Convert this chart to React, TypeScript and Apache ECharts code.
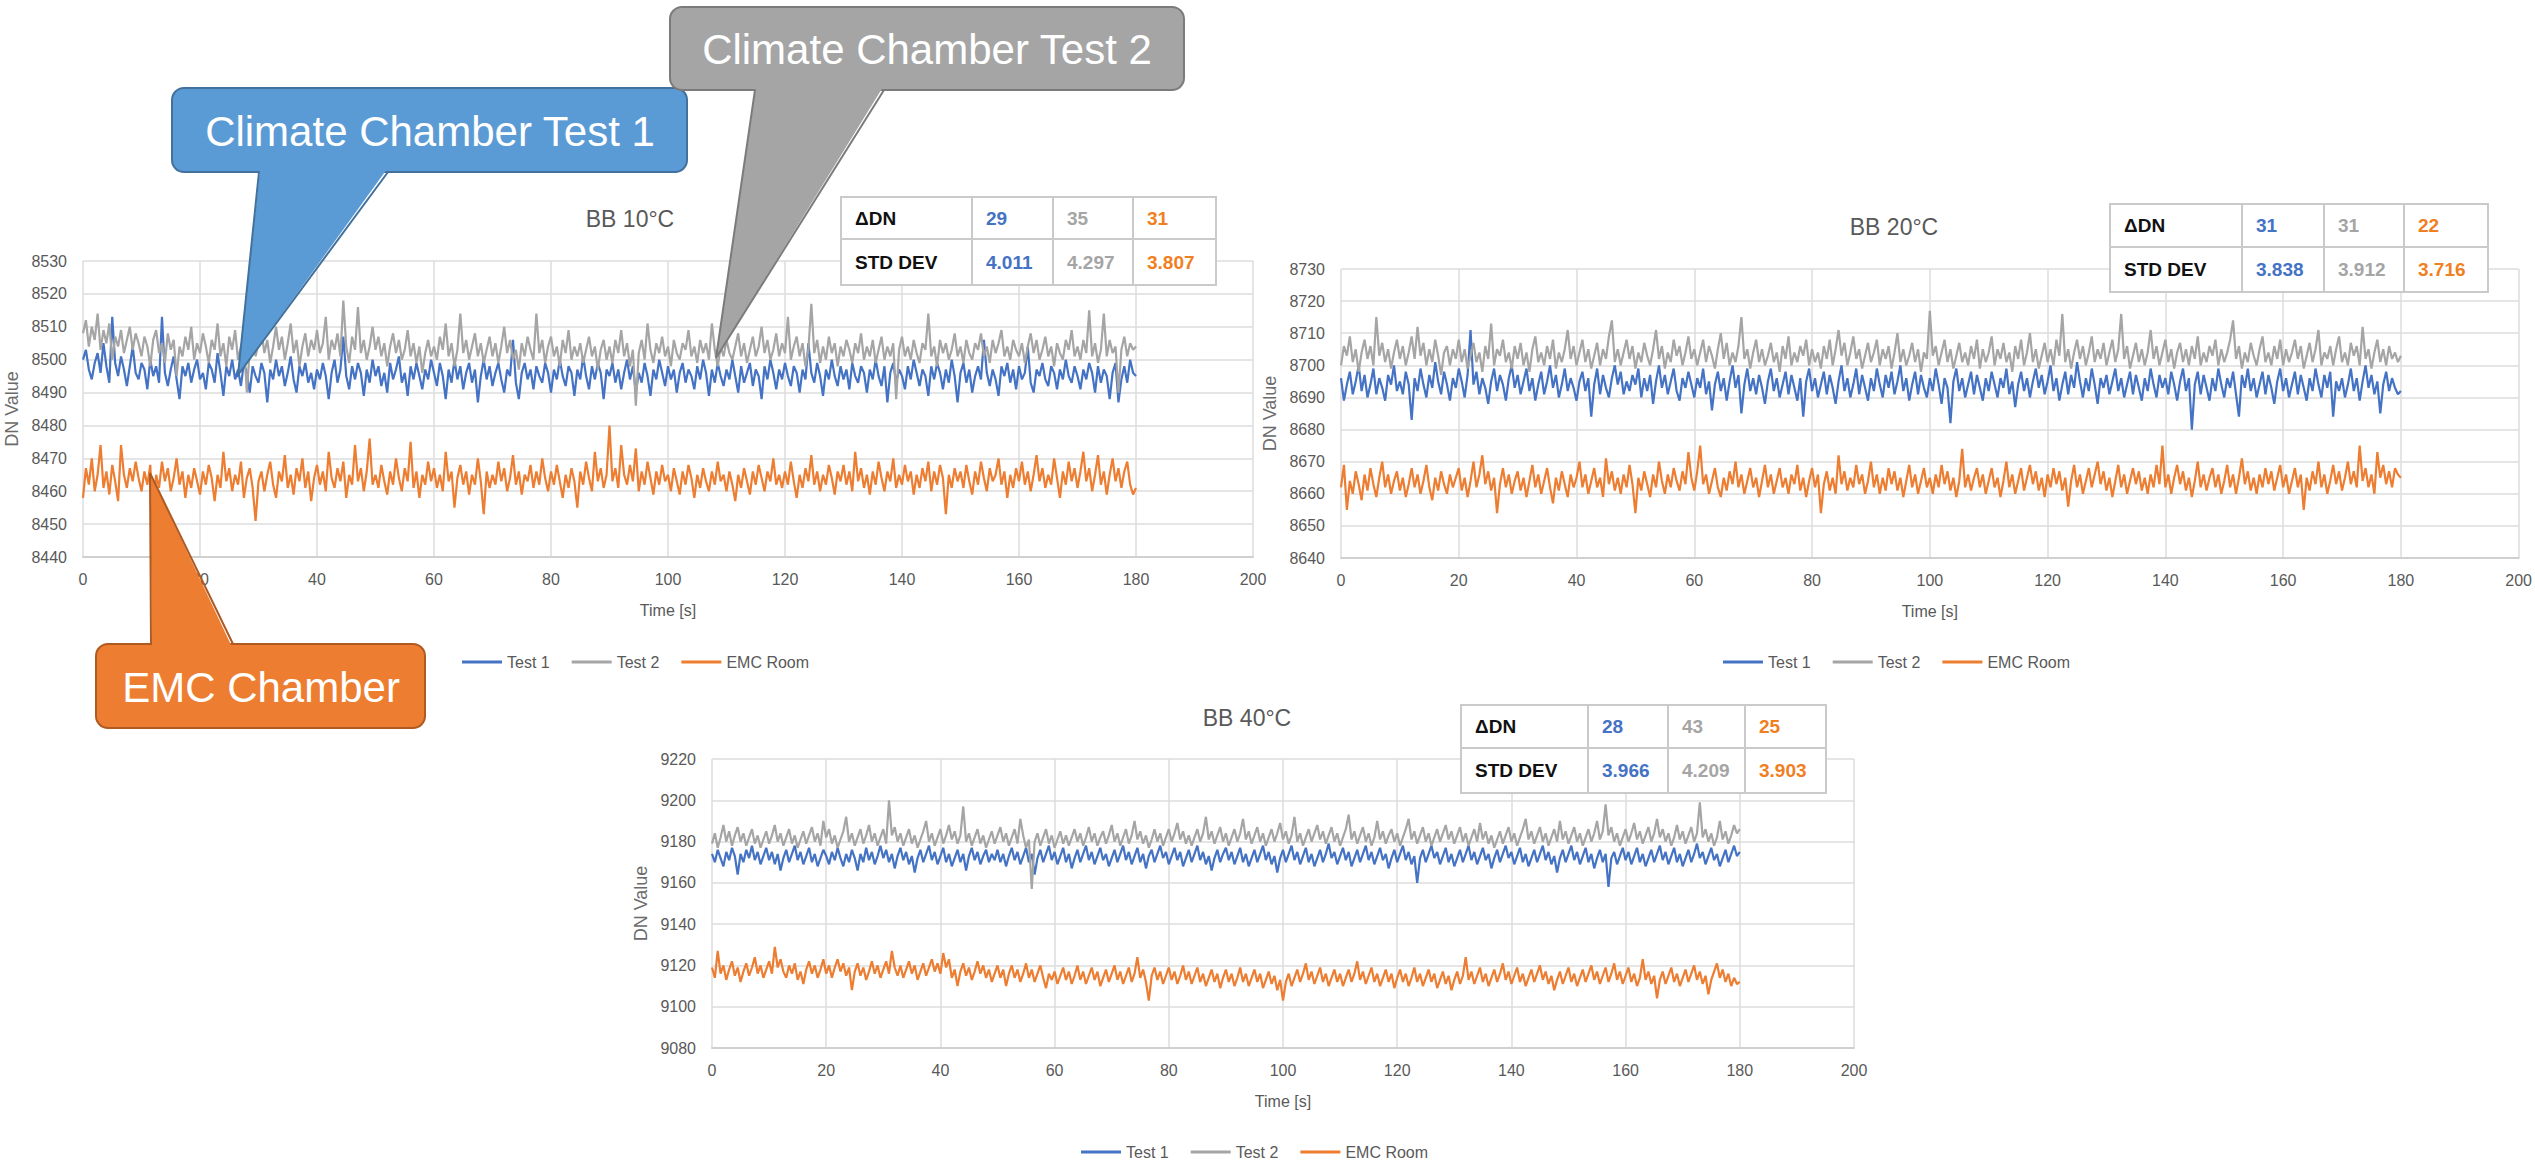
import React, { useEffect, useRef } from 'react';
import * as echarts from 'echarts';

const FONT = '"Liberation Sans", Arial, sans-serif';
const BLUE = '#4472C4';
const GRAY = '#A5A5A5';
const ORANGE = '#ED7D31';

const seriesNames = ['Test 1', 'Test 2', 'EMC Room'];
const chartTitles = ['BB 10°C', 'BB 20°C', 'BB 40°C'];
const tableLabels = ['ΔDN', 'STD DEV'];
const deltaDN10 = ['29', '35', '31'];
const stdDev10 = ['4.011', '4.297', '3.807'];
const deltaDN20 = ['31', '31', '22'];
const stdDev20 = ['3.838', '3.912', '3.716'];
const deltaDN40 = ['28', '43', '25'];
const stdDev40 = ['3.966', '4.209', '3.903'];
const calloutTexts = ['Climate Chamber Test 1', 'Climate Chamber Test 2', 'EMC Chamber'];
const timeSpan = 180; // seconds recorded

// ---- BB 10°C ----
const bb10Test1 = [
8500,8503,8497,8494,8499,8502,8496,8505,8498,8493,8513,8499,8495,8501,8497,8492,8498,8504,8496,8494,
8499,8497,8491,8500,8495,8498,8493,8513,8496,8492,8497,8501,8494,8488,8498,8495,8499,8493,8497,8500,
8494,8496,8491,8499,8497,8493,8502,8496,8489,8498,8495,8500,8494,8497,8492,8499,8496,8490,8498,8495,
8493,8499,8496,8487,8497,8494,8500,8495,8498,8492,8496,8501,8494,8490,8498,8495,8499,8493,8496,8491,
8497,8494,8499,8495,8488,8496,8500,8493,8497,8507,8495,8491,8498,8494,8499,8496,8489,8497,8493,8500,
8495,8498,8492,8496,8490,8499,8494,8497,8501,8493,8496,8489,8498,8494,8499,8495,8491,8497,8494,8500,
8496,8492,8499,8495,8488,8497,8493,8500,8494,8498,8491,8496,8499,8493,8497,8487,8495,8500,8494,8498,
8492,8496,8499,8494,8490,8497,8495,8506,8493,8488,8496,8499,8494,8497,8491,8498,8495,8493,8499,8496,
8490,8497,8494,8500,8495,8492,8498,8496,8489,8497,8494,8501,8495,8491,8498,8494,8499,8496,8488,8497,
8495,8499,8493,8497,8491,8496,8500,8494,8498,8490,8496,8493,8499,8495,8489,8497,8494,8500,8496,8492,
8498,8494,8497,8490,8496,8499,8493,8497,8495,8491,8498,8494,8500,8496,8489,8497,8493,8499,8495,8492,
8497,8494,8500,8495,8490,8498,8493,8496,8499,8492,8497,8495,8488,8498,8494,8500,8496,8491,8497,8494,
8499,8495,8492,8498,8496,8490,8497,8494,8505,8496,8493,8499,8495,8489,8497,8494,8500,8495,8492,8498,
8494,8497,8491,8499,8495,8493,8498,8496,8490,8497,8494,8500,8495,8492,8498,8487,8496,8499,8493,8497,
8495,8491,8498,8494,8500,8496,8492,8497,8495,8489,8498,8494,8499,8496,8491,8497,8493,8500,8495,8487,
8496,8499,8493,8497,8490,8495,8498,8494,8506,8496,8492,8497,8494,8489,8498,8495,8499,8493,8497,8491,
8498,8494,8496,8504,8493,8490,8497,8495,8499,8494,8492,8498,8496,8491,8497,8494,8500,8495,8493,8498,
8495,8491,8497,8494,8499,8496,8490,8498,8493,8497,8495,8488,8496,8499,8487,8494,8498,8493,8500,8496,
8495];
const bb10Test2 = [
8508,8512,8504,8510,8506,8514,8503,8509,8505,8511,8500,8507,8504,8509,8502,8506,8510,8503,8508,8505,
8501,8507,8504,8498,8506,8509,8502,8505,8499,8508,8503,8506,8495,8504,8501,8507,8503,8510,8500,8505,
8502,8508,8504,8499,8506,8503,8511,8501,8505,8498,8507,8503,8509,8500,8504,8506,8490,8503,8507,8501,
8505,8509,8502,8506,8499,8504,8510,8503,8507,8500,8505,8511,8502,8506,8498,8504,8508,8501,8506,8503,
8509,8502,8505,8513,8500,8506,8503,8508,8501,8518,8504,8499,8507,8503,8516,8502,8506,8500,8504,8510,
8503,8507,8501,8505,8498,8504,8508,8502,8506,8500,8503,8509,8501,8505,8499,8504,8496,8502,8506,8501,
8504,8500,8507,8503,8511,8501,8505,8498,8503,8514,8502,8506,8500,8504,8508,8501,8505,8499,8503,8507,
8501,8505,8499,8504,8510,8502,8506,8500,8503,8497,8505,8501,8507,8503,8500,8514,8502,8506,8499,8504,
8507,8501,8504,8498,8506,8502,8509,8500,8504,8501,8505,8499,8503,8507,8501,8504,8497,8503,8506,8500,
8504,8499,8506,8502,8509,8501,8505,8498,8503,8486,8502,8506,8500,8511,8503,8499,8505,8502,8507,8501,
8504,8498,8506,8502,8500,8505,8503,8509,8501,8504,8499,8506,8502,8505,8500,8511,8503,8498,8504,8501,
8506,8502,8500,8504,8508,8501,8505,8499,8503,8507,8501,8504,8510,8502,8506,8500,8503,8508,8501,8505,
8502,8513,8500,8504,8507,8501,8505,8498,8503,8517,8502,8506,8499,8504,8500,8507,8502,8505,8498,8504,
8501,8506,8503,8499,8505,8502,8508,8500,8504,8501,8506,8499,8503,8507,8500,8504,8501,8505,8488,8503,
8507,8501,8504,8500,8506,8502,8499,8505,8503,8514,8501,8504,8498,8506,8502,8505,8500,8503,8508,8501,
8504,8499,8506,8502,8500,8505,8503,8508,8501,8504,8499,8506,8502,8505,8509,8501,8504,8500,8506,8503,
8501,8505,8499,8504,8508,8502,8506,8500,8503,8507,8501,8504,8498,8505,8502,8500,8506,8503,8509,8501,
8504,8500,8506,8502,8515,8501,8505,8499,8503,8514,8501,8506,8502,8504,8490,8503,8507,8501,8505,8503,
8504];
const bb10Emc = [
8458,8467,8462,8470,8460,8465,8474,8461,8466,8459,8468,8463,8457,8474,8465,8461,8467,8463,8469,8464,
8460,8466,8462,8468,8449,8465,8461,8469,8463,8467,8460,8464,8470,8462,8466,8458,8465,8461,8467,8463,
8459,8466,8462,8468,8464,8457,8465,8461,8472,8463,8467,8460,8465,8462,8469,8458,8464,8467,8461,8451,
8463,8466,8460,8465,8469,8462,8458,8466,8463,8471,8461,8465,8459,8467,8463,8470,8461,8466,8457,8464,
8468,8462,8466,8460,8472,8464,8461,8467,8463,8469,8458,8465,8462,8474,8463,8467,8460,8466,8476,8462,
8465,8461,8468,8463,8459,8466,8462,8470,8464,8460,8467,8463,8475,8461,8466,8458,8465,8462,8469,8463,
8467,8461,8465,8460,8472,8463,8466,8455,8464,8468,8462,8466,8459,8465,8462,8470,8463,8453,8466,8461,
8465,8462,8469,8463,8467,8460,8464,8471,8462,8466,8459,8465,8463,8468,8461,8466,8462,8470,8464,8460,
8466,8462,8468,8463,8458,8465,8461,8467,8463,8455,8466,8462,8469,8464,8460,8472,8463,8467,8461,8465,
8480,8463,8467,8461,8474,8465,8462,8468,8463,8473,8460,8466,8462,8469,8464,8459,8466,8462,8468,8463,
8465,8460,8467,8463,8459,8466,8462,8468,8464,8458,8465,8461,8467,8463,8460,8466,8462,8469,8463,8465,
8460,8466,8462,8457,8465,8461,8467,8463,8459,8466,8462,8468,8464,8460,8466,8463,8470,8462,8465,8461,
8466,8462,8469,8463,8458,8465,8461,8467,8463,8471,8462,8466,8460,8465,8462,8468,8464,8459,8466,8463,
8468,8462,8466,8460,8472,8463,8467,8461,8465,8459,8466,8462,8469,8464,8460,8466,8463,8470,8461,8465,
8462,8468,8463,8466,8459,8465,8461,8467,8463,8469,8460,8466,8462,8468,8464,8453,8465,8461,8467,8463,
8466,8461,8468,8463,8459,8466,8462,8469,8464,8460,8467,8463,8465,8470,8462,8466,8458,8465,8461,8467,
8463,8469,8462,8466,8460,8465,8471,8463,8467,8461,8465,8462,8470,8464,8458,8466,8462,8469,8463,8467,
8461,8466,8472,8463,8467,8460,8465,8471,8462,8466,8459,8465,8470,8463,8467,8461,8466,8469,8462,8459,
8461];

// ---- BB 20°C ----
const bb20Test1 = [
8696,8689,8694,8698,8691,8695,8700,8692,8697,8690,8694,8699,8691,8696,8693,8689,8697,8694,8700,8692,
8695,8691,8698,8694,8683,8696,8692,8699,8694,8690,8697,8693,8701,8695,8691,8698,8694,8689,8696,8693,
8699,8695,8690,8697,8711,8694,8698,8691,8696,8693,8688,8695,8699,8692,8697,8694,8689,8696,8700,8693,
8697,8691,8695,8699,8692,8696,8689,8694,8698,8691,8695,8700,8693,8697,8690,8694,8699,8692,8696,8693,
8689,8695,8698,8692,8696,8684,8694,8699,8691,8697,8693,8690,8696,8700,8694,8698,8691,8695,8692,8697,
8694,8699,8690,8696,8692,8697,8688,8695,8700,8693,8697,8691,8695,8699,8692,8689,8696,8693,8698,8694,
8690,8696,8693,8699,8691,8695,8686,8694,8698,8692,8696,8689,8695,8700,8693,8697,8685,8694,8699,8692,
8696,8691,8697,8693,8688,8695,8699,8692,8696,8690,8694,8698,8691,8697,8693,8689,8696,8684,8695,8699,
8692,8696,8690,8694,8698,8691,8697,8693,8688,8695,8700,8692,8696,8690,8694,8699,8691,8697,8693,8689,
8696,8692,8699,8694,8690,8697,8693,8698,8691,8695,8700,8692,8696,8689,8694,8698,8691,8697,8693,8690,
8696,8692,8699,8694,8688,8696,8693,8682,8695,8699,8692,8696,8690,8694,8698,8691,8697,8693,8689,8696,
8692,8698,8694,8690,8696,8693,8699,8691,8695,8687,8694,8698,8692,8696,8690,8695,8699,8693,8697,8691,
8695,8700,8692,8696,8689,8694,8698,8691,8697,8693,8701,8695,8690,8696,8692,8699,8694,8688,8696,8693,
8697,8691,8695,8699,8692,8696,8690,8694,8698,8691,8697,8693,8689,8696,8692,8699,8694,8690,8697,8693,
8696,8691,8698,8694,8689,8695,8699,8692,8696,8680,8694,8698,8691,8697,8693,8689,8696,8692,8699,8694,
8690,8696,8693,8698,8691,8684,8697,8693,8699,8692,8696,8690,8694,8698,8691,8697,8693,8688,8695,8699,
8692,8696,8690,8694,8698,8691,8697,8693,8689,8696,8692,8699,8694,8690,8697,8693,8698,8684,8695,8692,
8696,8690,8694,8699,8692,8696,8689,8695,8700,8693,8697,8691,8695,8685,8694,8698,8692,8696,8693,8691,
8692];
const bb20Test2 = [
8700,8706,8703,8709,8701,8705,8698,8704,8708,8702,8706,8700,8715,8703,8707,8701,8705,8699,8704,8708,
8702,8706,8700,8704,8709,8702,8712,8703,8707,8700,8705,8701,8708,8703,8697,8704,8706,8700,8705,8702,
8708,8701,8705,8699,8703,8707,8701,8704,8698,8706,8702,8713,8700,8705,8703,8708,8701,8704,8699,8706,
8702,8707,8700,8704,8698,8705,8709,8701,8704,8700,8706,8702,8708,8699,8704,8701,8705,8711,8702,8706,
8700,8704,8708,8701,8705,8699,8703,8707,8700,8705,8702,8709,8714,8701,8705,8700,8704,8708,8702,8706,
8699,8704,8701,8707,8703,8700,8705,8711,8702,8706,8699,8704,8701,8708,8703,8706,8700,8704,8709,8702,
8705,8700,8704,8708,8701,8706,8703,8699,8705,8710,8702,8707,8700,8704,8701,8706,8715,8702,8705,8699,
8704,8708,8701,8705,8700,8703,8707,8701,8704,8698,8706,8702,8709,8700,8704,8701,8706,8703,8708,8700,
8705,8701,8704,8699,8706,8702,8708,8700,8705,8711,8703,8707,8700,8704,8709,8702,8705,8699,8703,8707,
8701,8704,8708,8700,8705,8702,8706,8699,8704,8710,8701,8705,8700,8703,8707,8701,8705,8698,8704,8702,
8717,8703,8706,8700,8704,8708,8701,8705,8699,8703,8707,8701,8704,8700,8706,8702,8708,8699,8705,8701,
8704,8709,8700,8705,8702,8707,8701,8704,8698,8706,8702,8708,8700,8704,8710,8701,8705,8699,8703,8707,
8701,8705,8700,8708,8703,8716,8701,8705,8699,8704,8708,8702,8706,8700,8704,8709,8701,8705,8702,8707,
8700,8704,8708,8701,8705,8716,8702,8706,8699,8703,8707,8701,8705,8700,8704,8711,8702,8706,8700,8704,
8708,8701,8705,8699,8704,8707,8701,8705,8700,8706,8702,8709,8700,8704,8701,8706,8703,8708,8700,8705,
8701,8704,8708,8714,8702,8706,8699,8704,8701,8707,8703,8700,8705,8709,8701,8704,8700,8706,8702,8708,
8700,8705,8701,8704,8708,8702,8706,8699,8703,8707,8701,8705,8711,8700,8704,8702,8706,8700,8705,8709,
8701,8704,8700,8707,8703,8706,8700,8712,8702,8705,8699,8704,8708,8701,8705,8700,8706,8702,8704,8701,
8703];
const bb20Emc = [
8662,8669,8655,8664,8660,8667,8663,8658,8666,8661,8668,8663,8659,8665,8670,8662,8666,8660,8664,8667,
8661,8665,8659,8663,8668,8662,8666,8660,8664,8669,8662,8658,8665,8661,8667,8663,8660,8666,8662,8665,
8668,8661,8665,8659,8664,8670,8662,8666,8672,8663,8667,8661,8665,8654,8663,8668,8662,8666,8660,8664,
8667,8661,8665,8659,8664,8669,8662,8666,8660,8664,8668,8662,8657,8665,8661,8667,8663,8659,8666,8662,
8665,8670,8662,8666,8660,8664,8668,8662,8665,8659,8671,8663,8667,8661,8665,8660,8666,8662,8669,8663,
8654,8665,8661,8667,8663,8659,8666,8662,8670,8664,8660,8666,8662,8668,8664,8661,8667,8663,8673,8665,
8661,8667,8675,8663,8666,8660,8664,8668,8662,8659,8665,8661,8667,8663,8670,8662,8666,8660,8664,8668,
8662,8665,8659,8664,8669,8662,8666,8660,8664,8668,8662,8665,8660,8666,8663,8669,8661,8665,8659,8664,
8668,8662,8666,8654,8663,8667,8661,8665,8660,8672,8663,8667,8661,8665,8662,8669,8663,8666,8660,8664,
8670,8662,8666,8660,8665,8661,8668,8663,8667,8661,8665,8659,8664,8669,8662,8666,8660,8664,8668,8662,
8665,8660,8666,8662,8669,8663,8667,8661,8665,8659,8664,8674,8662,8666,8661,8665,8668,8662,8666,8660,
8664,8668,8662,8665,8659,8664,8670,8662,8666,8660,8664,8668,8661,8665,8669,8663,8667,8661,8665,8659,
8666,8662,8668,8663,8667,8661,8665,8656,8664,8669,8662,8666,8660,8664,8668,8662,8666,8670,8663,8667,
8661,8665,8659,8664,8669,8662,8666,8660,8664,8668,8663,8667,8661,8665,8660,8666,8662,8669,8663,8675,
8662,8666,8660,8665,8669,8663,8667,8661,8665,8659,8664,8670,8662,8666,8661,8665,8668,8662,8666,8660,
8664,8669,8662,8666,8660,8665,8671,8663,8667,8661,8665,8660,8666,8662,8668,8663,8667,8661,8665,8669,
8662,8666,8660,8664,8668,8662,8666,8655,8665,8661,8667,8663,8670,8662,8666,8660,8664,8669,8663,8667,
8661,8665,8670,8663,8667,8662,8675,8664,8668,8662,8666,8660,8673,8665,8669,8663,8667,8662,8668,8666,
8665];

// ---- BB 40°C ----
const bb40Test1 = [
9174,9170,9176,9172,9168,9175,9171,9177,9173,9164,9174,9170,9176,9172,9178,9171,9175,9169,9173,9177,
9171,9175,9169,9174,9166,9172,9176,9170,9174,9178,9171,9175,9169,9173,9177,9170,9174,9168,9172,9176,
9173,9169,9175,9171,9177,9172,9168,9174,9170,9176,9172,9166,9174,9170,9177,9171,9175,9169,9173,9178,
9172,9176,9170,9174,9167,9173,9177,9171,9175,9169,9173,9165,9172,9176,9170,9174,9178,9171,9175,9169,
9173,9177,9170,9174,9168,9172,9176,9170,9174,9166,9173,9177,9171,9175,9169,9173,9176,9170,9174,9171,
9176,9170,9174,9168,9173,9177,9171,9175,9169,9173,9177,9170,9174,9164,9172,9176,9170,9174,9178,9171,
9175,9169,9173,9177,9170,9174,9167,9172,9176,9170,9174,9178,9171,9175,9169,9173,9177,9171,9174,9168,
9172,9176,9170,9174,9178,9171,9175,9169,9173,9177,9170,9174,9167,9173,9176,9170,9174,9178,9172,9175,
9169,9173,9177,9171,9175,9168,9172,9176,9170,9174,9178,9171,9175,9169,9173,9166,9172,9176,9170,9174,
9177,9171,9175,9169,9173,9177,9170,9174,9168,9172,9176,9170,9174,9178,9171,9175,9169,9173,9165,9172,
9176,9170,9174,9178,9171,9175,9169,9173,9177,9170,9174,9168,9172,9176,9170,9174,9179,9172,9175,9169,
9173,9177,9171,9175,9168,9172,9176,9170,9174,9178,9171,9175,9169,9173,9177,9171,9174,9167,9172,9176,
9170,9174,9178,9171,9175,9169,9173,9160,9172,9176,9170,9174,9178,9172,9175,9169,9173,9177,9170,9174,
9168,9172,9176,9170,9174,9178,9171,9175,9169,9173,9177,9171,9174,9167,9172,9176,9170,9174,9178,9172,
9175,9169,9173,9177,9170,9174,9168,9172,9176,9170,9174,9178,9171,9175,9169,9173,9165,9172,9176,9170,
9174,9178,9171,9175,9169,9173,9177,9170,9174,9167,9172,9176,9170,9174,9158,9172,9175,9169,9173,9177,
9171,9175,9169,9173,9177,9170,9174,9168,9172,9176,9170,9174,9178,9171,9175,9169,9173,9177,9170,9174,
9168,9172,9176,9170,9174,9179,9172,9175,9169,9173,9177,9171,9174,9168,9172,9176,9170,9174,9178,9173,
9175];
const bb40Test2 = [
9179,9184,9177,9182,9188,9180,9185,9178,9183,9187,9180,9184,9178,9182,9186,9179,9183,9177,9181,9185,
9179,9183,9188,9180,9184,9178,9182,9186,9179,9183,9177,9181,9185,9179,9183,9187,9180,9184,9178,9190,
9182,9186,9179,9183,9177,9181,9185,9192,9180,9184,9178,9182,9186,9179,9183,9188,9180,9184,9178,9182,
9186,9179,9200,9183,9187,9180,9184,9178,9182,9186,9179,9183,9177,9181,9185,9190,9180,9184,9178,9182,
9186,9179,9183,9188,9181,9185,9179,9183,9197,9180,9184,9178,9182,9186,9179,9183,9177,9181,9185,9179,
9183,9187,9180,9184,9178,9182,9186,9179,9191,9183,9177,9181,9157,9180,9184,9178,9182,9186,9179,9183,
9177,9181,9185,9179,9183,9178,9182,9186,9180,9184,9178,9182,9187,9180,9184,9178,9182,9185,9179,9183,
9188,9180,9184,9178,9182,9186,9179,9183,9190,9181,9185,9179,9183,9177,9181,9186,9180,9184,9178,9182,
9186,9180,9184,9189,9181,9185,9179,9183,9178,9182,9186,9180,9184,9192,9181,9185,9179,9183,9187,9180,
9184,9178,9182,9186,9180,9184,9191,9181,9185,9179,9183,9187,9180,9184,9178,9182,9186,9180,9184,9189,
9181,9185,9179,9183,9192,9180,9184,9178,9182,9186,9180,9184,9188,9181,9185,9179,9183,9187,9180,9184,
9178,9182,9186,9193,9181,9185,9179,9183,9187,9180,9184,9178,9182,9190,9181,9185,9179,9183,9186,9180,
9184,9178,9182,9186,9191,9181,9185,9179,9183,9187,9180,9184,9178,9182,9186,9180,9184,9188,9181,9185,
9179,9183,9187,9180,9184,9178,9182,9186,9180,9189,9181,9185,9179,9183,9177,9181,9185,9179,9183,9187,
9180,9184,9178,9182,9186,9191,9181,9185,9179,9183,9187,9180,9184,9178,9182,9186,9180,9190,9181,9185,
9179,9183,9187,9180,9184,9178,9182,9186,9180,9184,9190,9181,9185,9198,9183,9187,9180,9184,9178,9182,
9186,9180,9184,9189,9181,9185,9179,9183,9187,9180,9184,9191,9182,9186,9180,9184,9178,9182,9188,9181,
9185,9179,9183,9187,9180,9184,9199,9182,9186,9180,9184,9178,9182,9190,9181,9185,9179,9183,9188,9184,
9186];
const bb40Emc = [
9119,9114,9127,9116,9120,9113,9118,9122,9115,9119,9112,9117,9121,9115,9119,9124,9116,9120,9114,9118,
9122,9116,9129,9119,9123,9117,9114,9120,9116,9121,9113,9117,9111,9118,9122,9116,9120,9114,9118,9123,
9116,9120,9114,9119,9123,9117,9121,9115,9119,9108,9117,9121,9115,9119,9113,9117,9122,9116,9120,9114,
9118,9122,9116,9127,9119,9115,9120,9114,9118,9122,9116,9120,9113,9117,9121,9115,9119,9123,9117,9121,
9116,9126,9119,9123,9114,9118,9110,9117,9121,9115,9119,9113,9117,9122,9116,9120,9114,9118,9112,9116,
9120,9114,9118,9110,9116,9120,9114,9118,9112,9116,9121,9114,9118,9112,9116,9120,9114,9109,9116,9113,
9117,9111,9115,9119,9113,9117,9111,9115,9120,9113,9117,9111,9115,9119,9113,9117,9110,9114,9118,9112,
9116,9120,9113,9117,9111,9115,9119,9112,9116,9124,9114,9118,9112,9103,9115,9119,9113,9117,9111,9115,
9119,9113,9117,9111,9115,9120,9113,9117,9111,9115,9119,9112,9116,9110,9114,9118,9112,9116,9109,9114,
9118,9112,9116,9110,9114,9119,9112,9116,9110,9114,9118,9112,9116,9109,9113,9117,9111,9115,9108,9113,
9103,9112,9116,9110,9114,9118,9112,9116,9121,9113,9117,9111,9115,9119,9112,9116,9110,9114,9118,9112,
9116,9110,9114,9118,9112,9116,9122,9113,9117,9111,9115,9119,9112,9116,9110,9114,9118,9112,9116,9109,
9114,9118,9112,9116,9110,9114,9119,9112,9116,9110,9114,9118,9112,9116,9109,9113,9117,9111,9115,9108,
9113,9117,9111,9115,9124,9113,9117,9111,9115,9119,9112,9116,9110,9114,9118,9112,9116,9121,9113,9117,
9111,9115,9119,9112,9116,9110,9114,9118,9112,9116,9120,9113,9117,9111,9115,9108,9113,9117,9111,9115,
9119,9112,9116,9110,9114,9118,9112,9116,9120,9113,9117,9111,9115,9119,9112,9116,9121,9113,9117,9111,
9115,9119,9112,9116,9110,9114,9123,9113,9117,9111,9115,9104,9113,9117,9111,9115,9119,9112,9116,9110,
9114,9118,9112,9116,9120,9113,9117,9111,9115,9106,9113,9117,9121,9114,9118,9112,9116,9110,9114,9111,
9112];

const xMin = 0;
const xMax = 200;
const xInterval = 20;
const yRanges = [
  [8440, 8530, 10],
  [8640, 8730, 10],
  [9080, 9220, 20],
];

const dataSets = [
  [bb10Test1, bb10Test2, bb10Emc],
  [bb20Test1, bb20Test2, bb20Emc],
  [bb40Test1, bb40Test2, bb40Emc],
];
const tables = [
  [deltaDN10, stdDev10],
  [deltaDN20, stdDev20],
  [deltaDN40, stdDev40],
];

// layout (pixels)
const layouts = [
  { grid: { left: 83, top: 261, width: 1170, height: 296 }, titleX: 630, titleY: 219, legendLeft: 462, legendTop: 654,
    table: { x: 841, y: 197, w: 375, h: 88, split: 42, cols: [131, 212, 292] } },
  { grid: { left: 1341, top: 269, width: 1180, height: 289 }, titleX: 1894, titleY: 227, legendLeft: 1723, legendTop: 654,
    table: { x: 2110, y: 204, w: 378, h: 88, split: 43, cols: [132, 214, 294] } },
  { grid: { left: 712, top: 759, width: 1142, height: 289 }, titleX: 1247, titleY: 718, legendLeft: 1081, legendTop: 1144,
    table: { x: 1461, y: 705, w: 365, h: 88, split: 43, cols: [127, 207, 284] } },
];

const colors = [BLUE, GRAY, ORANGE];
const tableTextColors = ['#4472C4', '#A5A5A5', '#F07F22'];

const callouts = [
  { box: [172, 88, 515, 84], base: [259, 388], baseY: 172, inset: -3, tip: [238, 375], fill: '#5B9BD5', stroke: '#41719C', tx: 430, ty: 131 },
  { box: [670, 7, 514, 83], base: [755, 884], baseY: 90, inset: -3, tip: [716, 358], fill: '#A5A5A5', stroke: '#7B7B7B', tx: 927, ty: 49 },
  { box: [96, 644, 329, 84], base: [151, 233], baseY: 644, inset: 3, tip: [150, 473], fill: '#ED7D31', stroke: '#AE5A21', tx: 261, ty: 687 },
];

function toXY(vals: number[]) {
  const n = vals.length;
  return vals.map((v, i) => [(i * timeSpan) / (n - 1), v]);
}

function buildOption() {
  const grid = layouts.map((l) => ({ ...l.grid, containLabel: false }));
  const xAxis = layouts.map((_, i) => ({
    type: 'value', gridIndex: i, min: xMin, max: xMax, interval: xInterval,
    name: 'Time [s]', nameLocation: 'middle', nameGap: 45,
    nameTextStyle: { fontSize: 16, color: '#595959', fontFamily: FONT },
    axisLine: { show: true, lineStyle: { color: '#D0D0D0', width: 2 } },
    axisTick: { show: false },
    axisLabel: { fontSize: 16, color: '#595959', margin: 14, fontFamily: FONT, formatter: (v: number) => String(v) },
    splitLine: { show: true, lineStyle: { color: '#DCDCDC', width: 1.5 } },
  }));
  const yAxis = layouts.map((_, i) => ({
    type: 'value', gridIndex: i, min: yRanges[i][0], max: yRanges[i][1], interval: yRanges[i][2],
    name: 'DN Value', nameLocation: 'middle', nameGap: 62, nameRotate: 90,
    nameTextStyle: { fontSize: 18, color: '#6B6B6B', fontFamily: FONT },
    axisLine: { show: false }, axisTick: { show: false },
    axisLabel: { fontSize: 16, color: '#595959', margin: 16, fontFamily: FONT, formatter: (v: number) => String(v) },
    splitLine: { show: true, lineStyle: { color: '#DCDCDC', width: 1.5 } },
  }));
  const series: any[] = [];
  dataSets.forEach((set, ci) => {
    set.forEach((vals, si) => {
      series.push({
        type: 'line', name: seriesNames[si], xAxisIndex: ci, yAxisIndex: ci,
        data: toXY(vals), showSymbol: false, symbol: 'none',
        lineStyle: { color: colors[si], width: 2.2 }, itemStyle: { color: colors[si] },
        z: 2 + si, silent: true,
      });
    });
  });
  const legend = layouts.map((l) => ({
    data: seriesNames, left: l.legendLeft, top: l.legendTop, padding: 0,
    icon: 'rect', itemWidth: 40, itemHeight: 3, itemGap: 22, selectedMode: false,
    textStyle: { fontSize: 16, color: '#595959', fontFamily: FONT },
  }));

  const elements: any[] = [];
  // titles
  layouts.forEach((l, i) => {
    elements.push({
      type: 'text', x: l.titleX, y: l.titleY, z: 100,
      style: { text: chartTitles[i], fill: '#595959', fontSize: 23, fontFamily: FONT,
        align: 'center', verticalAlign: 'middle', textAlign: 'center', textVerticalAlign: 'middle' },
    });
  });
  // tables
  layouts.forEach((l, i) => {
    const t = l.table;
    const border = { stroke: '#CACACA', lineWidth: 2 };
    elements.push({ type: 'rect', z: 100, shape: { x: t.x, y: t.y, width: t.w, height: t.h }, style: { fill: '#FFFFFF', ...border } });
    elements.push({ type: 'line', z: 101, shape: { x1: t.x, y1: t.y + t.split, x2: t.x + t.w, y2: t.y + t.split }, style: border });
    t.cols.forEach((c) => {
      elements.push({ type: 'line', z: 101, shape: { x1: t.x + c, y1: t.y, x2: t.x + c, y2: t.y + t.h }, style: border });
    });
    const rowY = [t.y + t.split / 2, t.y + t.split + (t.h - t.split) / 2];
    tableLabels.forEach((lab, r) => {
      elements.push({
        type: 'text', z: 102, x: t.x + 14, y: rowY[r],
        style: { text: lab, fill: '#111111', fontSize: 19, fontWeight: 'bold', fontFamily: FONT,
          align: 'left', verticalAlign: 'middle', textAlign: 'left', textVerticalAlign: 'middle' },
      });
      tables[i][r].forEach((val, k) => {
        elements.push({
          type: 'text', z: 102, x: t.x + t.cols[k] + 14, y: rowY[r],
          style: { text: val, fill: tableTextColors[k], fontSize: 19, fontWeight: 'bold', fontFamily: FONT,
            align: 'left', verticalAlign: 'middle', textAlign: 'left', textVerticalAlign: 'middle' },
        });
      });
    });
  });
  // callouts
  callouts.forEach((c, i) => {
    const [bx, by, bw, bh] = c.box;
    elements.push({ type: 'rect', z: 110, shape: { x: bx, y: by, width: bw, height: bh, r: 12 }, style: { fill: c.fill, stroke: c.stroke, lineWidth: 2 } });
    elements.push({ type: 'polygon', z: 111, shape: { points: [[c.base[0] + 1, c.baseY + c.inset], c.tip, [c.base[1] - 1, c.baseY + c.inset]] }, style: { fill: c.fill } });
    elements.push({ type: 'polyline', z: 112, shape: { points: [[c.base[0], c.baseY], c.tip, [c.base[1], c.baseY]] }, style: { stroke: c.stroke, lineWidth: 2, fill: null } });
    elements.push({
      type: 'text', z: 113, x: c.tx, y: c.ty,
      style: { text: calloutTexts[i], fill: '#FFFFFF', fontSize: 42, fontFamily: FONT,
        align: 'center', verticalAlign: 'middle', textAlign: 'center', textVerticalAlign: 'middle' },
    });
  });

  return {
    animation: false,
    backgroundColor: '#FFFFFF',
    textStyle: { fontFamily: FONT },
    color: colors,
    grid, xAxis, yAxis, series, legend,
    graphic: { elements },
  };
}

export default function App() {
  const ref = useRef<HTMLDivElement>(null);
  useEffect(() => {
    if (!ref.current) return;
    const chart = echarts.init(ref.current, undefined, { renderer: 'svg' });
    chart.setOption(buildOption() as any);
    return () => chart.dispose();
  }, []);
  return (
    <div
      ref={ref}
      style={{ position: 'absolute', left: 0, top: 0, width: 2535, height: 1161, background: '#fff' }}
    />
  );
}
